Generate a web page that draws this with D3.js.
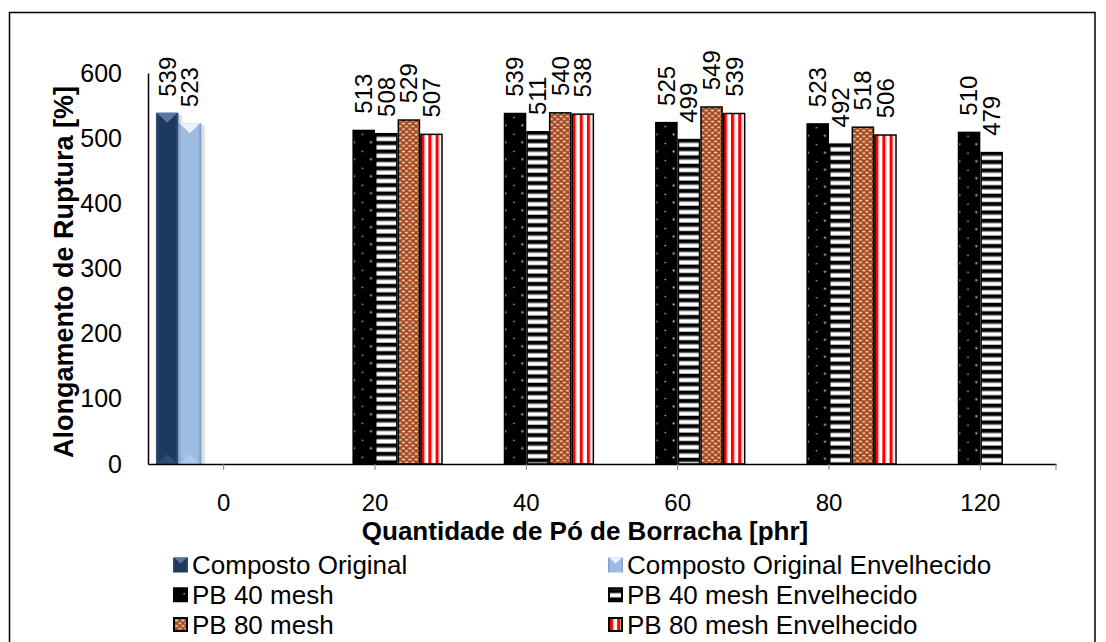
<!DOCTYPE html>
<html>
<head>
<meta charset="utf-8">
<script src="https://cdn.jsdelivr.net/npm/d3@7"></script>
<style>
  body { margin: 0; background: #fff; }
  svg { display: block; }
  text { font-family: "Liberation Sans", Arial, sans-serif; fill: #000; }
</style>
</head>
<body>
<svg id="chart" width="1106" height="642"></svg>
<script>
// ---- data ----
const categories = ["0", "20", "40", "60", "80", "120"];
const compostoOriginal            = [539, null, null, null, null, null];
const compostoOriginalEnvelhecido = [523, null, null, null, null, null];
const pb40                        = [null, 513, 539, 525, 523, 510];
const pb40Envelhecido             = [null, 508, 511, 499, 492, 479];
const pb80                        = [null, 529, 540, 549, 518, null];
const pb80Envelhecido             = [null, 507, 538, 539, 506, null];
const seriesNames = [
  "Composto Original", "Composto Original Envelhecido",
  "PB 40 mesh", "PB 40 mesh Envelhecido",
  "PB 80 mesh", "PB 80 mesh Envelhecido"
];
const yTicks = [0, 100, 200, 300, 400, 500, 600];
const yTitle = "Alongamento de Ruptura [%]";
const xTitle = "Quantidade de Pó de Borracha [phr]";

const series = [
  { name: seriesNames[0], values: compostoOriginal,            kind: "bevelDark" },
  { name: seriesNames[1], values: compostoOriginalEnvelhecido, kind: "bevelLight" },
  { name: seriesNames[2], values: pb40,                        kind: "dots" },
  { name: seriesNames[3], values: pb40Envelhecido,             kind: "hstripes" },
  { name: seriesNames[4], values: pb80,                        kind: "bricks" },
  { name: seriesNames[5], values: pb80Envelhecido,             kind: "vstripes" }
];

// ---- layout ----
const svg = d3.select("#chart");
const plot = { left: 148, right: 1056, top: 73, bottom: 464 };

const y = d3.scaleLinear().domain([0, 600]).range([plot.bottom, plot.top]);
const x0 = d3.scaleBand().domain(categories).range([plot.left, plot.right]).padding(0);
const x1 = d3.scaleBand().domain(d3.range(series.length))
  .range([0, x0.bandwidth()]).paddingInner(0).paddingOuter(0.35);

const defs = svg.append("defs");

// chart frame
svg.append("rect")
  .attr("x", 9.5).attr("y", 12.5).attr("width", 1085.5).attr("height", 640)
  .attr("fill", "none").attr("stroke", "#000").attr("stroke-width", 1.5);

// ---- fill patterns, anchored at the mark they paint ----
let patId = 0;
function makePattern(kind, ox, oy) {
  const id = "pat" + (patId++);
  const p = defs.append("pattern").attr("id", id)
    .attr("patternUnits", "userSpaceOnUse").attr("x", ox).attr("y", oy);
  if (kind === "dots") {
    p.attr("width", 17).attr("height", 17);
    p.append("rect").attr("width", 17).attr("height", 17).attr("fill", "#000");
    p.append("rect").attr("x", 8.5).attr("y", 4).attr("width", 1.4).attr("height", 1.2).attr("fill", "#d8d8d8");
    p.append("circle").attr("cx", 0.6).attr("cy", 12.6).attr("r", 1.1).attr("fill", "#bdbdbd");
    p.append("circle").attr("cx", 17.6).attr("cy", 12.6).attr("r", 1.1).attr("fill", "#bdbdbd");
  } else if (kind === "hstripes") {
    p.attr("width", 10).attr("height", 8.4);
    p.append("rect").attr("width", 10).attr("height", 8.4).attr("fill", "#fff");
    p.append("rect").attr("y", 0).attr("width", 10).attr("height", 3.6).attr("fill", "#000");
    p.append("rect").attr("y", 3.6).attr("width", 10).attr("height", 0.8).attr("fill", "#888");
    p.append("rect").attr("y", 7.6).attr("width", 10).attr("height", 0.8).attr("fill", "#aaa");
  } else if (kind === "bricks") {
    p.attr("width", 6.4).attr("height", 5.6);
    p.append("rect").attr("width", 6.4).attr("height", 5.6).attr("fill", "#A3461B");
    p.append("ellipse").attr("cx", 1.6).attr("cy", 1.4).attr("rx", 1.7).attr("ry", 1.0).attr("fill", "#F3D0BA");
    p.append("ellipse").attr("cx", 4.8).attr("cy", 4.2).attr("rx", 1.7).attr("ry", 1.0).attr("fill", "#F3D0BA");
    p.append("ellipse").attr("cx", -1.6).attr("cy", 4.2).attr("rx", 1.7).attr("ry", 1.0).attr("fill", "#F3D0BA");
    p.append("ellipse").attr("cx", 8.0).attr("cy", 1.4).attr("rx", 1.7).attr("ry", 1.0).attr("fill", "#F3D0BA");
  } else if (kind === "vstripes") {
    p.attr("width", 7.2).attr("height", 10);
    p.append("rect").attr("width", 7.2).attr("height", 10).attr("fill", "#fff");
    p.append("rect").attr("x", 0).attr("width", 3.2).attr("height", 10).attr("fill", "#FF0000");
    p.append("rect").attr("x", 3.2).attr("width", 0.8).attr("height", 10).attr("fill", "#ffb0b0");
  }
  return "url(#" + id + ")";
}

// bevelled solid bars
const bevel = {
  bevelDark:  { base: "#1D3960", edge: "#36567F", top: "#5878A0", bottom: "#2C4C75" },
  bevelLight: { base: "#9DBCE2", edge: "#7C9AC3", top: "#E8F3FE", bottom: "#AECAEB" }
};
function edgeGradient(kind) {
  const c = bevel[kind];
  const g = defs.append("linearGradient").attr("id", "grad-" + kind)
    .attr("x1", 0).attr("x2", 1).attr("y1", 0).attr("y2", 0);
  [[0, c.edge], [0.14, c.base], [0.86, c.base], [1, c.edge]].forEach(([o, col]) =>
    g.append("stop").attr("offset", o).attr("stop-color", col));
}
edgeGradient("bevelDark");
edgeGradient("bevelLight");
const shadow = defs.append("linearGradient").attr("id", "barShadow")
  .attr("x1", 0).attr("x2", 1).attr("y1", 0).attr("y2", 0);
shadow.append("stop").attr("offset", 0).attr("stop-color", "#000").attr("stop-opacity", 0.22);
shadow.append("stop").attr("offset", 1).attr("stop-color", "#000").attr("stop-opacity", 0);

function drawBevel(g, kind, bx, by, bw, bh) {
  const c = bevel[kind];
  const t = Math.min(10, bh / 2);
  g.append("rect").attr("x", bx + bw).attr("y", by + 2).attr("width", 5).attr("height", bh - 2)
    .attr("fill", "url(#barShadow)");
  g.append("rect").attr("x", bx).attr("y", by).attr("width", bw).attr("height", bh)
    .attr("fill", "url(#grad-" + kind + ")");
  g.append("polygon")
    .attr("points", [[bx + 1, by], [bx + bw - 1, by], [bx + bw / 2, by + t]].join(" "))
    .attr("fill", c.top);
  g.append("polygon")
    .attr("points", [[bx + 1, by + bh], [bx + bw - 1, by + bh], [bx + bw / 2, by + bh - t]].join(" "))
    .attr("fill", c.bottom);
}

// ---- bars ----
const barsG = svg.append("g");
const labelsG = svg.append("g");
series.forEach((s, si) => {
  s.values.forEach((v, ci) => {
    if (v == null) return;
    const bx = x0(categories[ci]) + x1(si);
    const bw = x1.bandwidth();
    const by = y(v);
    const bh = y(0) - y(v);
    if (s.kind === "bevelDark" || s.kind === "bevelLight") {
      drawBevel(barsG.append("g"), s.kind, bx, by, bw, bh);
    } else {
      barsG.append("rect")
        .attr("x", bx + 0.75).attr("y", by + 0.75)
        .attr("width", bw - 1.5).attr("height", bh - 0.75)
        .attr("fill", makePattern(s.kind, bx + 1, by))
        .attr("stroke", "#000").attr("stroke-width", 1.5);
    }
    labelsG.append("text")
      .attr("transform", `translate(${bx + bw / 2},${by - 16}) rotate(-90)`)
      .attr("dy", "0.35em")
      .attr("font-size", 24)
      .text(v);
  });
});

// ---- axes ----
const yAxis = svg.append("g")
  .attr("transform", `translate(${plot.left},0)`)
  .call(d3.axisLeft(y).tickValues(yTicks).tickSize(0).tickSizeOuter(0).tickPadding(26));
yAxis.select(".domain").attr("stroke", "#000").attr("stroke-width", 1.5);
yAxis.selectAll("text").attr("font-size", 25).attr("font-family", "Liberation Sans, Arial, sans-serif");

const xAxis = svg.append("g")
  .attr("transform", `translate(0,${plot.bottom})`)
  .call(d3.axisBottom(x0).tickSize(6).tickSizeOuter(0).tickPadding(24));
xAxis.select(".domain").attr("stroke", "#000").attr("stroke-width", 1.5);
xAxis.selectAll(".tick line").attr("stroke", "#808080").attr("stroke-width", 1);
xAxis.selectAll("text").attr("font-size", 24).attr("font-family", "Liberation Sans, Arial, sans-serif");
xAxis.append("line")
  .attr("x1", x0.range()[1]).attr("x2", x0.range()[1])
  .attr("y1", 0).attr("y2", 6)
  .attr("stroke", "#808080").attr("stroke-width", 1);

// ---- titles ----
svg.append("text")
  .attr("transform", `translate(64,272) rotate(-90)`)
  .attr("text-anchor", "middle").attr("dy", "0.35em")
  .attr("font-size", 27).attr("font-weight", "bold")
  .text(yTitle);
svg.append("text")
  .attr("x", 585).attr("y", 540)
  .attr("text-anchor", "middle")
  .attr("font-size", 26).attr("font-weight", "bold")
  .text(xTitle);

// ---- legend ----
const legendCols = [173, 608];
const legendRow0 = 565, legendStep = 29.75, sw = 15;
series.forEach((s, i) => {
  const col = i % 2, row = Math.floor(i / 2);
  const mx = legendCols[col];
  const cy = legendRow0 + row * legendStep;
  const my = cy - sw / 2;
  const g = svg.append("g");
  if (s.kind === "bevelDark" || s.kind === "bevelLight") {
    const c = bevel[s.kind];
    g.append("rect").attr("x", mx).attr("y", my).attr("width", sw).attr("height", sw)
      .attr("fill", "url(#grad-" + s.kind + ")");
    g.append("polygon")
      .attr("points", [[mx + 1, my], [mx + sw - 1, my], [mx + sw / 2, my + 6]].join(" "))
      .attr("fill", c.top);
  } else {
    g.append("rect").attr("x", mx + 1).attr("y", my + 1).attr("width", sw - 2).attr("height", sw - 2)
      .attr("fill", makePattern(s.kind, mx + 2, my + 2))
      .attr("stroke", "#000").attr("stroke-width", 2);
  }
  svg.append("text")
    .attr("x", mx + sw + 4).attr("y", cy).attr("dy", "0.35em")
    .attr("font-size", 26)
    .text(s.name);
});
</script>
</body>
</html>
